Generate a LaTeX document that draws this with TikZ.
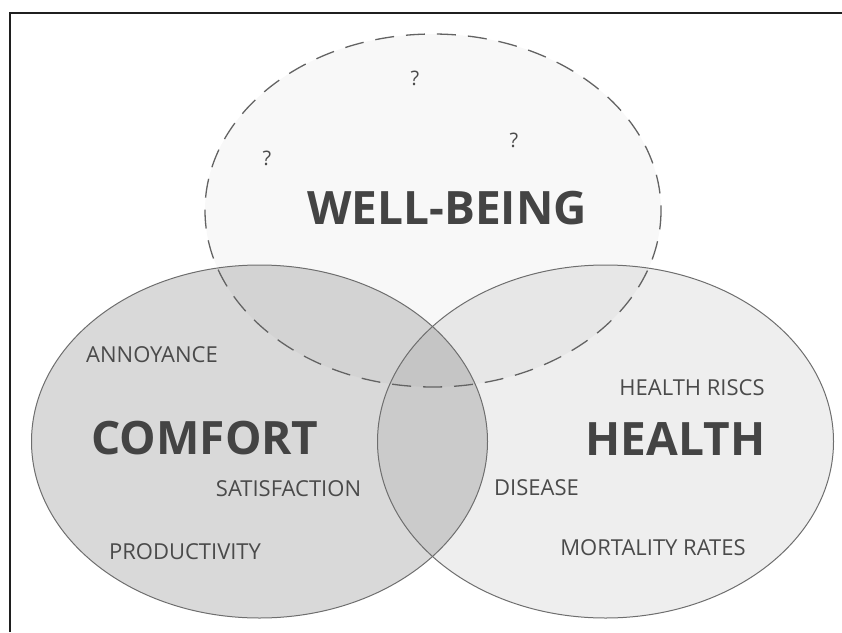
\documentclass[tikz,border=0pt]{standalone}
\usepackage{fontspec}
\setmainfont{Open Sans}
\definecolor{txtgray}{HTML}{4A4A4A}
\definecolor{boldgray}{HTML}{444444}
\definecolor{linegray}{HTML}{6E6E6E}

\begin{document}
\begin{tikzpicture}[x=1pt,y=-1pt,
  small/.style={text=txtgray,inner sep=0pt,font=\fontsize{22}{22}\selectfont},
  big/.style={text=boldgray,inner sep=0pt,font=\fontsize{46}{46}\selectfont\bfseries},
  quest/.style={text=txtgray,inner sep=0pt,font=\fontsize{20}{20}\selectfont}]
\def\rx{228}
\def\ry{176.5}
\useasboundingbox (0,0) rectangle (842,632);

% Cadre
\draw[line width=2pt,black!88] (10,632) -- (10,13) -- (842,13);

% Les ensembles (remplissage)
\fill[black,fill opacity=.15] (259.5,441.5) ellipse [x radius=\rx,y radius=\ry];
\fill[black,fill opacity=.065] (605.5,441.5) ellipse [x radius=\rx,y radius=\ry];
\fill[black,fill opacity=.028] (433,210.5) ellipse [x radius=\rx,y radius=\ry];

% Contours
\draw[linegray,line width=1pt] (259.5,441.5) ellipse [x radius=\rx,y radius=\ry];
\draw[linegray,line width=1pt] (605.5,441.5) ellipse [x radius=\rx,y radius=\ry];
\draw[linegray!90!black,line width=1.3pt,dash pattern=on 19pt off 12pt] (433,210.5) ellipse [x radius=\rx,y radius=\ry];

% Well-being
\node[big] (wellbeing) at (447,208) {WELL-BEING};
\foreach \x/\y [count=\i] in {415/78,514/140,267/158}{
	\node[quest] (q\i) at (\x,\y) {?};
}

% Comfort
\node[big] (comfort) at (205,438.5) {COMFORT};
\node[small] (annoyance) at (152,354.5) {ANNOYANCE};
\node[small] (satisfaction) at (288.5,489) {SATISFACTION};
\node[small] (productivity) at (185,551.5) {PRODUCTIVITY};

% Health
\node[big] (health) at (675.5,439) {HEALTH};
\node[small] (riscs) at (692,387.5) {HEALTH RISCS};
\node[small] (disease) at (536.5,488) {DISEASE};
\node[small] (mortality) at (653,547.5) {MORTALITY RATES};
\end{tikzpicture}
\end{document}
